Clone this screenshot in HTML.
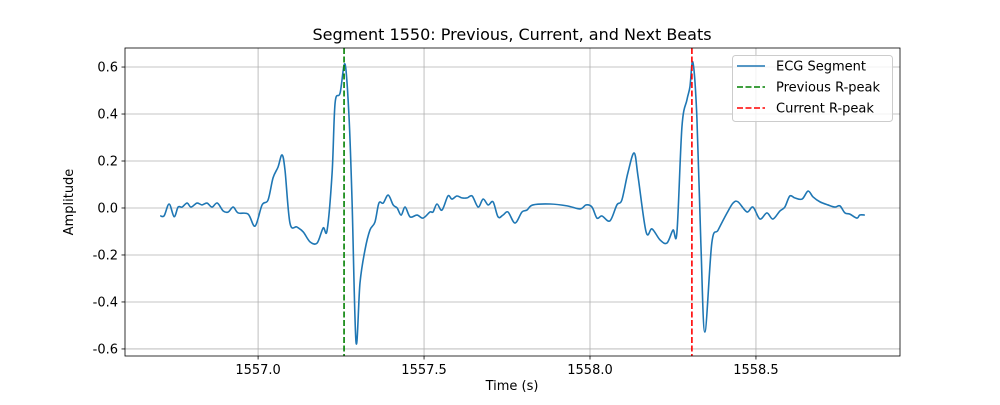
<!DOCTYPE html>
<html><head><meta charset="utf-8"><style>
body{margin:0;background:#fff;font-family:"Liberation Sans","DejaVu Sans",sans-serif}
svg text{font-family:"DejaVu Sans","Liberation Sans",sans-serif;fill:#000}
</style></head><body>
<svg id="chart" width="1000" height="400"></svg>
<script>
const baseTime = 1557;
const timeOffsets = [-0.295,-0.283,-0.268,-0.253,-0.241,-0.229,-0.214,-0.202,-0.184,-0.169,-0.154,-0.139,-0.123,-0.105,-0.090,-0.075,-0.060,-0.030,-0.009,0.012,0.030,0.045,0.060,0.072,0.081,0.096,0.117,0.136,0.157,0.178,0.196,0.208,0.223,0.232,0.247,0.262,0.274,0.283,0.295,0.307,0.322,0.337,0.352,0.364,0.377,0.392,0.407,0.419,0.431,0.443,0.458,0.479,0.497,0.518,0.527,0.539,0.554,0.572,0.584,0.599,0.614,0.630,0.645,0.663,0.678,0.693,0.708,0.723,0.738,0.753,
0.774,0.795,0.810,0.828,0.880,0.931,0.970,0.988,1.006,1.021,1.036,1.060,1.081,1.096,1.114,1.133,1.145,1.169,1.187,1.211,1.232,1.250,1.262,1.277,1.292,1.301,1.310,1.322,1.334,1.346,1.367,1.386,1.413,1.431,1.446,1.473,1.491,1.512,1.533,1.551,1.572,1.587,1.602,1.617,1.639,1.657,1.672,1.693,1.717,1.738,1.753,1.768,1.783,1.804,1.813,1.828];
const amplitudes = [-0.033,-0.033,0.017,-0.037,0.004,0.004,0.021,0.004,0.021,0.013,0.021,0.004,0.021,-0.013,-0.017,0.004,-0.021,-0.026,-0.077,0.013,0.034,0.128,0.174,0.226,0.162,-0.064,-0.081,-0.102,-0.145,-0.149,-0.085,-0.094,0.149,0.447,0.489,0.612,0.387,0.034,-0.570,-0.319,-0.179,-0.094,-0.060,0.021,0.021,0.055,0.013,0,-0.030,0.004,-0.038,-0.030,-0.043,-0.017,-0.017,0.017,-0.009,0.051,0.038,0.051,0.043,0.043,0.051,0.004,0.038,0.013,0.026,-0.038,-0.030,-0.017,
-0.064,-0.017,-0.009,0.013,0.017,0.009,-0.004,0.013,0.004,-0.043,-0.034,-0.055,0.013,0.034,0.149,0.234,0.132,-0.102,-0.089,-0.136,-0.149,-0.094,-0.102,0.345,0.460,0.515,0.620,0.387,-0.149,-0.528,-0.149,-0.094,-0.021,0.021,0.026,-0.017,0.004,-0.047,-0.021,-0.047,-0.013,0.004,0.051,0.043,0.038,0.072,0.047,0.026,0.013,0.004,0.009,-0.021,-0.026,-0.043,-0.030,-0.030];
const rPeakTimes = [1557.259, 1558.307];
const xTicks = [1557.0, 1557.5, 1558.0, 1558.5];
const yTicks = [-0.6, -0.4, -0.2, 0.0, 0.2, 0.4, 0.6];

const L=125,R=900,T=48,B=356;
const xMin=1556.599,xMax=1558.934,yMin=-0.630,yMax=0.681;
const sx=t=>L+(t-xMin)/(xMax-xMin)*(R-L);
const sy=v=>B-(v-yMin)/(yMax-yMin)*(B-T);
const NS='http://www.w3.org/2000/svg';
const svg=document.getElementById('chart');
function mk(tag,attrs,parent){const e=document.createElementNS(NS,tag);for(const k in attrs)e.setAttribute(k,attrs[k]);(parent||svg).appendChild(e);return e;}

const grid=mk('g',{});


xTicks.forEach(t=>{
  const x=sx(t);
  const gl=mk('line',{x1:x,x2:x,y1:T,y2:B,stroke:'#b0b0b0','stroke-width':0.8},grid);
  
  
  mk('line',{x1:x,x2:x,y1:B,y2:B+3.5,stroke:'#000','stroke-width':0.8});
  const tx=mk('text',{x:x,y:B+18,'text-anchor':'middle','font-size':13});
  tx.textContent=t.toFixed(1);
  
  
});
yTicks.forEach(v=>{
  const y=sy(v);
  const gl=mk('line',{x1:L,x2:R,y1:y,y2:y,stroke:'#b0b0b0','stroke-width':0.8},grid);
  
  
  mk('line',{x1:L-3.5,x2:L,y1:y,y2:y,stroke:'#000','stroke-width':0.8});
  const tx=mk('text',{x:L-7,y:y+4.5,'text-anchor':'end','font-size':13});
  tx.textContent=v.toFixed(1);
  
  
});

// smooth line
const pts=timeOffsets.map((o,i)=>[sx(baseTime+o),sy(amplitudes[i])]);
let d='M'+pts[0][0]+','+pts[0][1];
for(let i=0;i<pts.length-1;i++){
  const p0=pts[Math.max(0,i-1)],p1=pts[i],p2=pts[i+1],p3=pts[Math.min(pts.length-1,i+2)];
  const c1=[p1[0]+(p2[0]-p0[0])/6,p1[1]+(p2[1]-p0[1])/6];
  const c2=[p2[0]-(p3[0]-p1[0])/6,p2[1]-(p3[1]-p1[1])/6];
  d+=' C'+c1[0]+','+c1[1]+' '+c2[0]+','+c2[1]+' '+p2[0]+','+p2[1];
}
const line=mk('path',{d:d,fill:'none',stroke:'#1f77b4','stroke-width':1.6,'stroke-linejoin':'round'});



const colors=['#008000','#ff0000'];
rPeakTimes.forEach((t,i)=>{
  const x=sx(t);
  const vl=mk('line',{x1:x,x2:x,y1:T,y2:B,stroke:colors[i],'stroke-width':1.6,'stroke-dasharray':'6,2.5'});
  
  
});

const frame=mk('rect',{x:L,y:T,width:R-L,height:B-T,fill:'none',stroke:'#000','stroke-width':0.8});



const title=mk('text',{x:512,y:40,'text-anchor':'middle','font-size':16});
title.textContent='Segment 1550: Previous, Current, and Next Beats';


const xl=mk('text',{x:512,y:390,'text-anchor':'middle','font-size':13});
xl.textContent='Time (s)';


const yl=mk('text',{x:0,y:0,'text-anchor':'middle','font-size':13,transform:'translate(73,202) rotate(-90)'});
yl.textContent='Amplitude';



// legend
const lg=mk('g',{});


mk('rect',{x:732.5,y:55.5,width:160,height:66,rx:3,fill:'#fff','fill-opacity':0.8,stroke:'#ccc','stroke-width':1},lg);
const entries=[['ECG Segment','#1f77b4',null],['Previous R-peak','#008000','6,2.5'],['Current R-peak','#ff0000','6,2.5']];
entries.forEach((e,i)=>{
  const y=66+i*21;
  const a={x1:737,x2:765,y1:y,y2:y,stroke:e[1],'stroke-width':1.6};
  if(e[2])a['stroke-dasharray']=e[2];
  mk('line',a,lg);
  const tx=mk('text',{x:776,y:y+4.5,'font-size':13},lg);
  tx.textContent=e[0];
  
  
});
</script>
</body></html>
